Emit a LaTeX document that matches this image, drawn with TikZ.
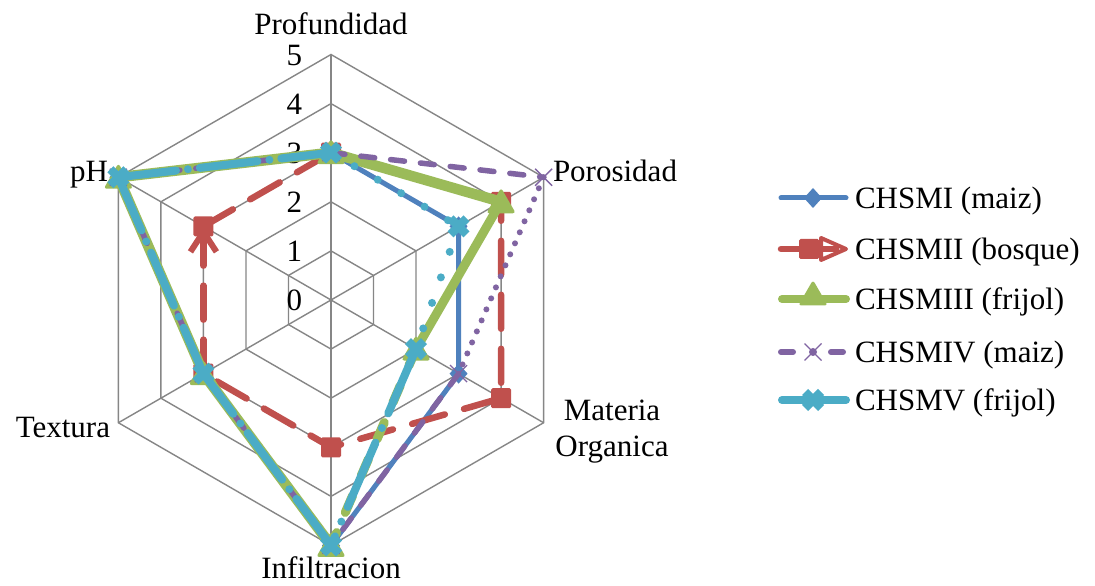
\documentclass[tikz,border=0pt]{standalone}
\usepackage{fontspec}
\setmainfont{Liberation Serif}
\usetikzlibrary{shapes.geometric,shapes.misc,arrows.meta}
\definecolor{cb}{HTML}{4F81BD}
\definecolor{cr}{HTML}{C0504D}
\definecolor{cg}{HTML}{9BBB59}
\definecolor{cp}{HTML}{8064A2}
\definecolor{cc}{HTML}{4BACC6}
\definecolor{cgrid}{HTML}{868686}
\tikzset{
  every node/.style={font=\fontsize{31}{36}\selectfont, inner sep=0pt, outer sep=0pt},
  gridline/.style={draw=cgrid, line width=1.4pt},
  lb/.style={draw=cb, line width=5pt, line cap=round, line join=round},
  lr/.style={draw=cr, line width=6.5pt, line cap=round, dash pattern=on 34pt off 20pt},
  lg/.style={draw=cg, line width=10.5pt, line cap=round, line join=round},
  lgdash/.style={lg, line width=9pt, dash pattern=on 18pt off 22pt},
  lp/.style={draw=cp, line width=5.5pt, line cap=round, dash pattern=on 14pt off 16pt},
  lpdot/.style={draw=cp, line width=6pt, line cap=round, dash pattern=on 0pt off 12pt},
  lc/.style={draw=cc, line width=8pt, line cap=round, line join=round},
  lcdots/.style={lc, dash pattern=on 0pt off 27pt},
  lclong/.style={lc, dash pattern=on 70pt off 16pt on 0pt off 16pt},
  lcdd/.style={lc, dash pattern=on 58pt off 12pt on 0pt off 12pt},
  mkb/.style={diamond, fill=cb, minimum width=18pt, minimum height=20pt},
  mkr/.style={rectangle, fill=cr, minimum size=20pt, rounded corners=1.5pt},
  mkg/.style={regular polygon, regular polygon sides=3, fill=cg, minimum size=34pt, rounded corners=3pt},
  mkp/.style={cross out, draw=cp, line width=1.3pt, minimum size=17pt},
  mkc/.style={cross out, draw=cc, line width=8.5pt, minimum size=16pt},
  axlab/.style={anchor=base},
  ticklab/.style={anchor=base east},
}
\begin{document}
\begin{tikzpicture}[x=1pt,y=1pt]
\fill[white] (0,0) rectangle (1095,586);
\useasboundingbox (0,0) rectangle (1095,586);
\begin{scope}[shift={(331,286)}]
\def\u{49.1}
% grid
\foreach \k in {1,...,5}
  \draw[gridline] (90:{\k*\u}) -- (30:{\k*\u}) -- (-30:{\k*\u}) -- (-90:{\k*\u}) -- (-150:{\k*\u}) -- (150:{\k*\u}) -- cycle;
\foreach \a in {90,30,-30,-90,-150,150}
  \draw[gridline] (0,0) -- (\a:{5*\u});
% tick labels
\foreach \k in {0,...,5}
  \node[ticklab] (t\k) at (-29, {\k*\u-11}) {\k};
% axis labels
\node[axlab] (aProf) at (0,265) {Profundidad};
\node[anchor=base west] (aPor) at (222,118) {Porosidad};
\node[axlab] (aMO1) at (281,-121) {Materia};
\node[axlab] (aMO2) at (281,-157) {Organica};
\node[axlab] (aInf) at (0,-279) {Infiltracion};
\node[anchor=base east] (aTex) at (-221,-138) {Textura};
\node[anchor=base east] (apH) at (-223,118) {pH};
% data coordinates
\foreach \s/\va/\vb/\vc/\vd/\ve/\vf in {b/3/3/3/5/3/5, r/3/4/4/3/3/3, g/3/4/2/5/3/5, p/3/5/3/5/3/5, c/3/3/2/5/3/5}{
  \coordinate (\s1) at (90:{\va*\u});
  \coordinate (\s2) at (30:{\vb*\u});
  \coordinate (\s3) at (-30:{\vc*\u});
  \coordinate (\s4) at (-90:{\vd*\u});
  \coordinate (\s5) at (-150:{\ve*\u});
  \coordinate (\s6) at (150:{\vf*\u});
}
% CHSMI blue
\draw[lb] (b1) -- (b2) -- (b3) -- (b4) -- (b5) -- (b6) -- cycle;
\foreach \i in {1,...,6} \node[mkb] (bm\i) at (b\i) {};
% CHSMII red
\draw[lr] (r1) -- (r2) -- (r3) -- (r4) -- (r5);
\draw[lr, -{Straight Barb[length=20pt,width=26pt,line width=6pt]}] (r5) -- (r6);
\draw[lr] (r6) -- (r1);
\foreach \i in {1,...,6} \node[mkr] (rm\i) at (r\i) {};
% CHSMIII green
\draw[lg] (g4) -- (g5) -- (g6) -- (g1) -- (g2);
\draw[lg, line width=9pt] (g2) -- (g3);
\draw[lgdash] (g3) -- (g4);
\foreach \i in {1,...,6} \node[mkg] (gm\i) at ([yshift=-3pt]g\i) {};
% CHSMIV purple
\draw[lp] (p1) -- (p2);
\draw[lpdot] (p2) -- (p3);
\draw[lp] (p3) -- (p4) -- (p5) -- (p6) -- (p1);
\foreach \i in {1,...,6} \node[mkp] (pm\i) at (p\i) {};
% CHSMV cyan
\draw[lcdots] (c1) -- (c2);
\draw[lcdots] (c2) -- (c3);
\draw[lclong] (c3) -- (c4);
\draw[lcdd] (c4) -- (c5);
\draw[lcdd] (c6) -- (c5);
\draw[lcdd] (c6) -- (c1);
\foreach \i in {1,...,6} \node[mkc] (cm\i) at (c\i) {};
% legend
\coordinate (lb0) at (450,102); \coordinate (lb1) at (515,102);
\draw[lb] (lb0) -- (lb1);
\node[mkb] (lbm) at (482,102) {};
\node[anchor=base west] (lbt) at (524,91) {CHSMI (maiz)};
\coordinate (lr0) at (450,51); \coordinate (lr1) at (505,51);
\draw[draw=cr, line width=6.5pt, line cap=round] (lr0) -- (lr1);
\node[mkr] (lrm) at (478,51) {};
\coordinate (lra) at (490,62); \coordinate (lrb) at (515,51); \coordinate (lrc) at (490,40);
\draw[draw=cr, line width=4pt, line join=round] (lra) -- (lrb) -- (lrc) -- cycle;
\node[anchor=base west] (lrt) at (524,40) {CHSMII (bosque)};
\coordinate (lg0) at (451,1); \coordinate (lg1) at (515,1);
\draw[lg, line width=8pt] (lg0) -- (lg1);
\node[mkg] (lgm) at (482,3) {};
\node[anchor=base west] (lgt) at (524,-10) {CHSMIII (frijol)};
\coordinate (lp0) at (450,-52); \coordinate (lp1) at (515,-52);
\draw[draw=cp, line width=6pt, line cap=round, dash pattern=on 12pt off 38pt] (lp0) -- (lp1);
\node[mkp] (lpm) at (482,-52) {};
\fill[cp] (482,-52) circle (4pt);
\node[anchor=base west] (lpt) at (524,-63) {CHSMIV (maiz)};
\coordinate (lc0) at (451,-100); \coordinate (lc1) at (515,-100);
\draw[lc] (lc0) -- (lc1);
\node[mkc] (lcm) at (482,-100) {};
\node[anchor=base west] (lct) at (524,-111) {CHSMV (frijol)};
\end{scope}
\end{tikzpicture}
\end{document}
